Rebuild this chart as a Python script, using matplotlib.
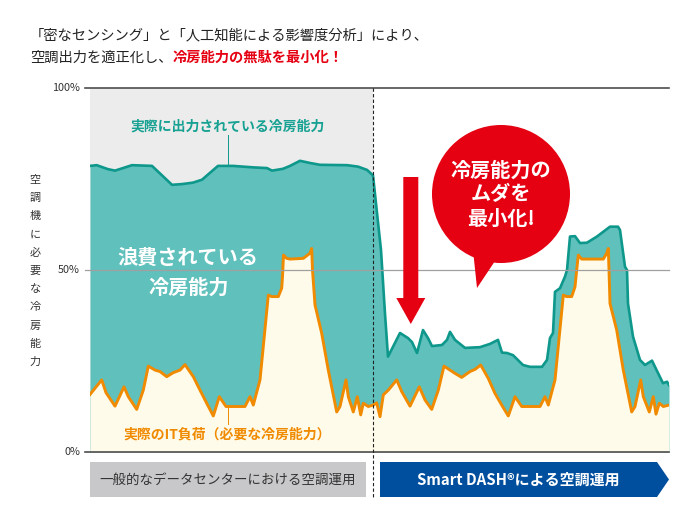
"""Recreate the Smart DASH cooling-capacity comparison chart."""

import matplotlib
matplotlib.use('Agg')
import matplotlib.patches as patches
import matplotlib.pyplot as plt

plt.rcParams['font.family'] = ['Noto Sans CJK JP', 'DejaVu Sans']

# time step (arbitrary units) and % of cooling capacity
OUTPUT_T = [0, 6.7, 18, 25, 33, 42, 62, 72, 82, 92, 103, 112, 120, 128, 143,
            163, 177, 182, 193, 200, 210, 220, 230, 257, 268, 277, 283, 287,
            291, 295, 298, 310, 318, 322, 327, 333, 338, 342, 352, 357, 360,
            365, 375, 390, 400, 408, 412, 417, 423, 433, 440, 452, 457, 460,
            463, 465, 470, 475, 477, 480, 485, 490, 497, 507, 520, 528, 530,
            535, 537, 538, 543, 550, 555, 562, 565, 573, 577, 579]
OUTPUT_PCT = [78.6, 78.8, 77.7, 77.3, 78.0, 78.8, 78.6, 76.0, 73.4, 73.6, 74.0,
              74.8, 76.7, 78.6, 78.6, 78.2, 78.0, 77.3, 77.8, 78.6, 80.0, 79.4,
              78.9, 78.8, 78.4, 77.5, 76.0, 65.7, 55.5, 38.0, 26.2, 32.7, 31.3,
              30.2, 27.2, 33.5, 31.3, 29.1, 29.4, 30.8, 33.0, 30.8, 28.6, 28.8,
              29.7, 30.8, 27.3, 27.2, 26.6, 23.9, 23.4, 23.4, 25.3, 31.3, 32.7,
              44.0, 45.0, 48.2, 50.0, 59.2, 59.3, 57.4, 57.5, 59.2, 61.9, 61.9,
              61.0, 50.9, 50.0, 40.8, 31.7, 25.3, 23.9, 25.1, 23.4, 18.9, 19.3,
              18.4]

LOAD_T = [0, 11.7, 16, 25, 34, 38.3, 46.7, 53.3, 58.3, 65, 70, 76.7, 83.3, 90,
          95, 103.3, 110, 116.7, 123.3, 129.3, 136, 155, 160, 163.3, 170,
          178.3, 181.7, 188.3, 191.7, 192.5, 193.5, 196.7, 200, 213.3, 220,
          221.7, 222.5, 225, 231.7, 238.3, 246.7, 250, 256, 258.3, 263.3,
          267.3, 270.7, 273.3, 278.3, 283.3, 286.7, 290, 293.3, 298.3, 306.7,
          311.7, 320, 329.3, 335, 341.7, 348.3, 354, 360, 365, 371.7, 380, 385,
          390.7, 398.3, 405, 411.7, 418.3, 425, 431.7, 450, 455, 458.3, 465,
          473.3, 476.7, 481.7, 485, 486.7, 488.3, 491.7, 513.3, 516.7, 518.3,
          519, 520, 526.7, 533.3, 541.7, 545, 550.7, 553.3, 559.3, 563.3, 566,
          569.3, 573.3, 579]
LOAD_PCT = [15.8, 19.8, 16.3, 12.6, 17.9, 15.2, 11.7, 17.0, 23.6, 22.5, 22.1,
            20.7, 21.8, 22.5, 24.0, 20.7, 17.0, 13.4, 9.9, 15.2, 12.5, 12.5,
            15.2, 12.9, 19.8, 43.1, 42.7, 42.7, 45.0, 48.2, 54.1, 53.2, 53.0,
            53.2, 54.6, 55.9, 50.0, 40.4, 32.6, 22.5, 11.0, 12.5, 19.8, 15.2,
            11.0, 15.2, 10.2, 13.4, 12.5, 12.9, 13.5, 9.7, 15.7, 17.0, 19.8,
            16.6, 12.6, 17.9, 14.3, 11.7, 17.0, 23.6, 22.5, 21.6, 20.5, 22.1,
            22.7, 23.9, 20.2, 16.1, 12.9, 9.9, 15.2, 12.5, 12.5, 15.2, 12.9,
            19.8, 43.1, 42.7, 42.7, 45.4, 50.0, 54.1, 53.0, 53.0, 54.6, 55.9,
            50.0, 40.8, 33.5, 22.5, 11.0, 12.5, 19.8, 15.2, 11.0, 15.2, 10.4,
            13.4, 12.5, 12.9]

SWITCH_T = 283.3
Y_TICKS = [0, 50, 100]
Y_TICK_LABELS = ['0%', '50%', '100%']
Y_LABEL = '空調機に必要な冷房能力'

TEAL_FILL = '#5fc0bc'
TEAL_LINE = '#0e978b'
TEAL_TEXT = '#16a192'
ORANGE = '#f08a00'
CREAM = '#fffbea'
RED = '#e50012'
BLUE = '#004f9f'

W, H = 698, 526
fig = plt.figure(figsize=(W / 100, H / 100), dpi=100)

# plot area in pixels: x 90..669, y 88 (100%) .. 452 (0%)
ax = fig.add_axes([90 / W, (H - 452) / H, 579 / W, 364 / H])
ax.set_xlim(0, 579)
ax.set_ylim(0, 100)
ax.axis('off')

ax.axvspan(0, SWITCH_T, color='#ececec', lw=0, zorder=0)
ax.fill_between(OUTPUT_T, 0, OUTPUT_PCT, color=TEAL_FILL, lw=0, zorder=1)
ax.fill_between(LOAD_T, 0, LOAD_PCT, color=CREAM, lw=0, zorder=2)
ax.plot(OUTPUT_T, OUTPUT_PCT, color=TEAL_LINE, lw=1.9, zorder=4,
        solid_joinstyle='round')
ax.plot(LOAD_T, LOAD_PCT, color=ORANGE, lw=2.1, zorder=5,
        solid_joinstyle='round')

for tick, label in zip(Y_TICKS, Y_TICK_LABELS):
    shade = '#a0a0a0' if tick == 50 else '#4d4d4d'
    ax.axhline(tick, xmin=-0.009, xmax=1, color=shade,
               lw=0.9 if tick == 50 else 1.2, clip_on=False, zorder=6)
    ax.text(-10, tick, label, ha='right', va='center', fontsize=7.8,
            color='#333333')

# callouts inside the plot
ax.text(138, 89.3, '実際に出力されている冷房能力', ha='center', va='center',
        fontsize=10, fontweight='bold', color=TEAL_TEXT, zorder=7)
ax.plot([138, 138], [87.0, OUTPUT_PCT[14] + 0.6], color=TEAL_LINE, lw=0.7,
        zorder=7)
ax.text(98, 53.6, '浪費されている', ha='center', va='center', fontsize=14.5,
        fontweight='bold', color='white', zorder=7)
ax.text(98.5, 45.3, '冷房能力', ha='center', va='center', fontsize=14.5,
        fontweight='bold', color='white', zorder=7)
ax.text(137, 4.8, '実際のIT負荷（必要な冷房能力）', ha='center', va='center',
        fontsize=10, fontweight='bold', color=ORANGE, zorder=7)
ax.plot([138.3, 138.3], [7.6, 12.4], color=ORANGE, lw=0.7, zorder=7)

# overlay in pixel units for the decorations
ov = fig.add_axes([0, 0, 1, 1], zorder=10)
ov.set_xlim(0, W)
ov.set_ylim(H, 0)
ov.axis('off')

ov.text(30, 35, '「密なセンシング」と「人工知能による影響度分析」により、',
        ha='left', va='center', fontsize=10.3, color='#222222')
line2 = ov.text(30, 58, '空調出力を適正化し、', ha='left', va='center',
                fontsize=10.3, color='#222222')
ov.annotate('冷房能力の無駄を最小化！', xycoords=line2, xy=(1, 0.5),
            va='center', ha='left', fontsize=10.3, fontweight='bold',
            color=RED)

for index, char in enumerate(Y_LABEL):
    ov.text(35, 180 + index * 18.2, char, ha='center', va='center',
            fontsize=8, color='#333333')

ov.plot([373.3, 373.3], [88, 497], color='#222222', lw=0.8,
        linestyle=(0, (3, 2)), zorder=3)

ov.add_patch(patches.FancyArrow(410.8, 177, 0, 147, width=15,
                                head_width=29, head_length=26,
                                length_includes_head=True, color=RED, lw=0))
ov.add_patch(patches.Circle((501, 194), 69, color=RED, lw=0))
ov.add_patch(patches.Polygon([(473, 250), (499, 255), (477, 288)],
                             closed=True, color=RED, lw=0))
for text, y in zip(['冷房能力の', 'ムダを', '最小化!'], [170, 194, 218]):
    ov.text(501, y, text, ha='center', va='center', fontsize=14.5,
            fontweight='bold', color='white')

ov.add_patch(patches.Rectangle((90, 462), 276, 35, color='#c8c8ca', lw=0))
ov.text(228, 480, '一般的なデータセンターにおける空調運用', ha='center',
        va='center', fontsize=9.7, color='#333333')
ov.add_patch(patches.Polygon([(380, 462), (657, 462), (669, 479.5),
                              (657, 497), (380, 497)], closed=True,
                             color=BLUE, lw=0))
ov.text(518, 480, 'Smart DASH®による空調運用', ha='center', va='center',
        fontsize=10.8, fontweight='bold', color='white')

fig.savefig('out.png', dpi=100)
